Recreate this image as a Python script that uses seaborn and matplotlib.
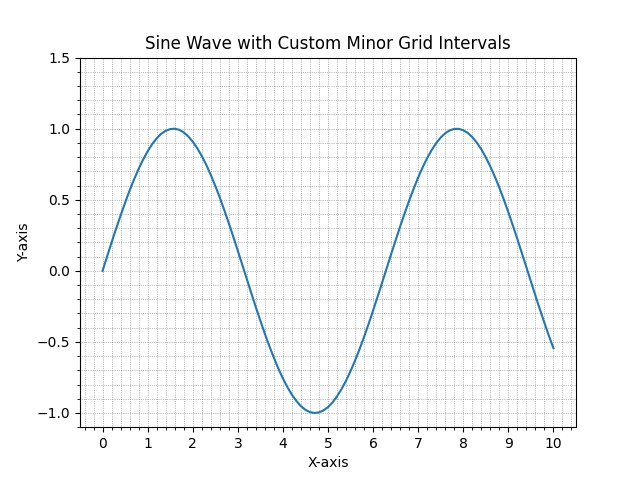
import matplotlib
matplotlib.use("Agg")
import matplotlib.pyplot as plt
from matplotlib.ticker import MultipleLocator
import seaborn as sns

# sine wave samples (step 0.1)
x_vals = [0.0, 0.1, 0.2, 0.3, 0.4, 0.5, 0.6, 0.7, 0.8, 0.9,
          1.0, 1.1, 1.2, 1.3, 1.4, 1.5, 1.6, 1.7, 1.8, 1.9,
          2.0, 2.1, 2.2, 2.3, 2.4, 2.5, 2.6, 2.7, 2.8, 2.9,
          3.0, 3.1, 3.2, 3.3, 3.4, 3.5, 3.6, 3.7, 3.8, 3.9,
          4.0, 4.1, 4.2, 4.3, 4.4, 4.5, 4.6, 4.7, 4.8, 4.9,
          5.0, 5.1, 5.2, 5.3, 5.4, 5.5, 5.6, 5.7, 5.8, 5.9,
          6.0, 6.1, 6.2, 6.3, 6.4, 6.5, 6.6, 6.7, 6.8, 6.9,
          7.0, 7.1, 7.2, 7.3, 7.4, 7.5, 7.6, 7.7, 7.8, 7.9,
          8.0, 8.1, 8.2, 8.3, 8.4, 8.5, 8.6, 8.7, 8.8, 8.9,
          9.0, 9.1, 9.2, 9.3, 9.4, 9.5, 9.6, 9.7, 9.8, 9.9,
          10.0]
y_vals = [0.000, 0.100, 0.199, 0.296, 0.389, 0.479, 0.565, 0.644, 0.717, 0.783,
          0.841, 0.891, 0.932, 0.964, 0.985, 0.997, 1.000, 0.992, 0.974, 0.946,
          0.909, 0.863, 0.808, 0.746, 0.675, 0.598, 0.516, 0.427, 0.335, 0.239,
          0.141, 0.042, -0.058, -0.158, -0.256, -0.351, -0.443, -0.530, -0.612, -0.688,
          -0.757, -0.818, -0.872, -0.916, -0.952, -0.978, -0.994, -1.000, -0.996, -0.982,
          -0.959, -0.926, -0.883, -0.832, -0.773, -0.706, -0.631, -0.551, -0.465, -0.374,
          -0.279, -0.182, -0.083, 0.017, 0.117, 0.215, 0.312, 0.405, 0.494, 0.578,
          0.657, 0.729, 0.794, 0.850, 0.899, 0.938, 0.968, 0.988, 0.998, 0.999,
          0.989, 0.970, 0.941, 0.902, 0.855, 0.798, 0.734, 0.663, 0.585, 0.501,
          0.412, 0.319, 0.223, 0.124, 0.025, -0.075, -0.175, -0.272, -0.366, -0.458,
          -0.544]

fig, ax = plt.subplots(figsize=(6.4, 4.8), dpi=100)
sns.lineplot(x=x_vals, y=y_vals, ax=ax, color='#1f77b4')

ax.set_ylim(-1.1, 1.5)
ax.xaxis.set_major_locator(MultipleLocator(1))
ax.xaxis.set_minor_locator(MultipleLocator(0.2))
ax.yaxis.set_major_locator(MultipleLocator(0.5))
ax.yaxis.set_minor_locator(MultipleLocator(0.1))
ax.grid(which='both', linestyle=':', linewidth=0.5, color='gray')

ax.set_title('Sine Wave with Custom Minor Grid Intervals')
ax.set_xlabel('X-axis')
ax.set_ylabel('Y-axis')

plt.savefig('out.png', dpi=100)
